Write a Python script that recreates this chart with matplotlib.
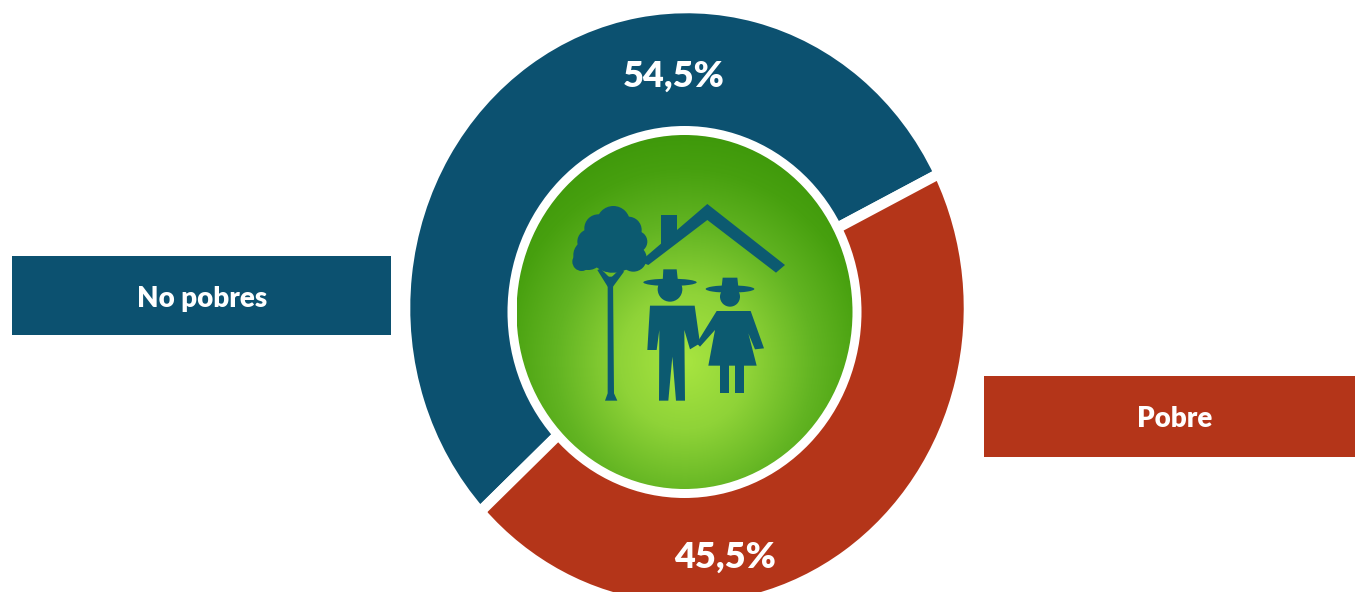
import numpy as np
import matplotlib
matplotlib.use("Agg")
import matplotlib.pyplot as plt
from matplotlib.patches import Ellipse, Polygon, Rectangle, Circle
from matplotlib.colors import LinearSegmentedColormap

categories = ["No pobres", "Pobre"]
shares = [54.5, 45.5]
share_labels = ["54,5%", "45,5%"]
colors = ["#0C5170", "#B43519"]

W, H = 1355, 592
plt.rcParams["font.family"] = ["Lato", "DejaVu Sans"]
fig = plt.figure(figsize=(W / 100, H / 100), dpi=100, facecolor="white")

# ring (elliptical, as in the reference)
cx, cy, rx, ry = 687, 308, 282, 300
ax_pie = fig.add_axes([(cx - rx) / W, (H - cy - ry) / H, 2 * rx / W, 2 * ry / H])
ax_pie.pie(shares, colors=colors, startangle=26.6, counterclock=True, radius=1,
           wedgeprops=dict(width=0.45, edgecolor="white", linewidth=7.6))
ax_pie.set_aspect("auto")
ax_pie.set_xlim(-1, 1)
ax_pie.set_ylim(-1, 1)

# overlay in pixel coordinates
ax = fig.add_axes([0, 0, 1, 1], zorder=3)
ax.set_xlim(0, W)
ax.set_ylim(H, 0)
ax.axis("off")
ax.patch.set_alpha(0)

# centre disc: glow sits below the middle of the disc
gx, gy, grx, gry = 684.5, 312, 168, 177
ax.add_patch(Ellipse((gx, gy), 2 * grx + 18, 2 * gry + 18, fc="white", ec="none", zorder=1))
yy, xx = np.mgrid[-1:1:400j, -1:1:400j]
rr = np.clip(np.hypot(xx, yy - 0.28) / 1.28, 0, 1)
cmap = LinearSegmentedColormap.from_list(
    "g", [(0, "#A8E540"), (0.3, "#8FD338"), (0.6, "#62B422"), (0.85, "#47A00F"), (1, "#3F990B")])
im = ax.imshow(rr, cmap=cmap, vmin=0, vmax=1, zorder=2, interpolation="bilinear",
               extent=(gx - grx, gx + grx, gy + gry, gy - gry), aspect="auto")
im.set_clip_path(Ellipse((gx, gy), 2 * grx, 2 * gry, transform=ax.transData))
ax.set_xlim(0, W)
ax.set_ylim(H, 0)

# icon, traced in zoom-crop coordinates
ICON = "#0C5A70"
def P(pts):
    return [(500 + x / 3, 130 + y / 3) for x, y in pts]
def poly(pts):
    ax.add_patch(Polygon(P(pts), closed=True, fc=ICON, ec="none", zorder=4))
def circ(x, y, r):
    (px, py), = P([(x, y)])
    ax.add_patch(Circle((px, py), r / 3, fc=ICON, ec="none", zorder=4))
def brim(x, y, w, h):
    (px, py), = P([(x, y)])
    ax.add_patch(Ellipse((px, py), w / 3, h / 3, fc=ICON, ec="none", zorder=4))

# tree
for c in [(340, 278, 50), (295, 295, 42), (385, 300, 40), (270, 335, 38), (410, 335, 32),
          (340, 340, 88), (265, 375, 45), (400, 385, 40), (245, 395, 28), (330, 385, 42)]:
    circ(*c)
poly([(323, 440), (339, 440), (342, 790), (352, 812), (315, 812), (323, 790)])
poly([(292, 420), (302, 416), (331, 445), (362, 415), (372, 425), (339, 470), (323, 470)])
# roof and chimney
poly([(420, 395), (622, 222), (855, 405), (828, 428), (622, 270), (445, 405)])
poly([(483, 255), (531, 255), (531, 320), (483, 365)])
# man
brim(510, 457, 160, 22)
poly([(490, 418), (530, 418), (534, 455), (488, 455)])
circ(510, 478, 37)
poly([(450, 527), (584, 527), (600, 640), (570, 658), (553, 600), (555, 812), (528, 812),
      (517, 680), (505, 812), (477, 812), (478, 600), (470, 660), (442, 660)])
# woman
brim(690, 477, 146, 22)
poly([(668, 443), (712, 443), (716, 480), (664, 480)])
circ(690, 500, 30)
poly([(650, 543), (752, 543), (792, 655), (765, 658), (745, 610), (770, 707), (625, 707),
      (645, 600), (600, 650), (590, 640)])
poly([(660, 700), (688, 700), (688, 790), (660, 790)])
poly([(705, 700), (731, 700), (731, 790), (705, 790)])

# category boxes
boxes = [(12, 256, 379, 79), (984, 376, 371, 81)]
name_pos = [(202, 299), (1175, 419)]
for (x, y, w, h), col, name, (tx, ty) in zip(boxes, colors, categories, name_pos):
    ax.add_patch(Rectangle((x, y), w, h, fc=col, ec="none", zorder=1))
    ax.text(tx, ty, name, color="white", fontsize=20, fontweight="heavy",
            ha="center", va="center", zorder=5)

# values
for lab, (tx, ty) in zip(share_labels, [(674, 76), (725, 557)]):
    ax.text(tx, ty, lab, color="white", fontsize=26, fontweight="heavy",
            ha="center", va="center", zorder=5)

fig.savefig("out.png", dpi=100, facecolor="white")
